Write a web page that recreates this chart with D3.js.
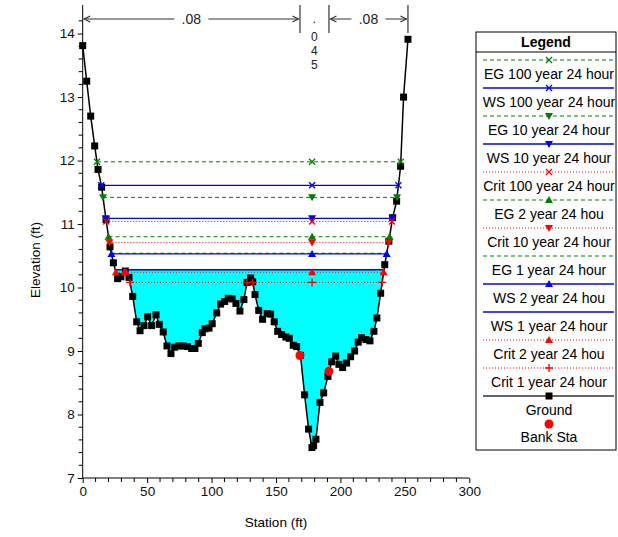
<!DOCTYPE html>
<html>
<head>
<meta charset="utf-8">
<script src="https://cdn.jsdelivr.net/npm/d3@7"></script>
<style>
  body { margin: 0; background: #fff; }
  text { font-family: "Liberation Sans", Arial, sans-serif; }
</style>
</head>
<body>
<div id="chart"></div>
<script>
// ground profile
const stations = [0, 3.1, 6.2, 9.3, 11.9, 14.7, 18.1, 21.2, 23.8, 27.1, 29.7, 33.1, 35.9, 38.8, 41.9, 44.5,
  47.6, 50.4, 53.5, 56.9, 59.4, 62.5, 65.4, 68.5, 71.4, 74.7, 78, 81.2, 84.6, 87.1, 89.7, 92.8, 94.9, 98,
  100.5, 104, 107, 110.2, 113, 116, 118.9, 122, 125.1, 127.5, 130.3, 131.9, 133.7, 136.6, 139.6, 143.2,
  145.8, 148.6, 151.3, 154.4, 157.7, 160.3, 163.4, 166, 169, 172.2, 175.3, 177.9, 179.2, 181, 184.1, 187,
  190.3, 193.2, 196.3, 198.8, 201.7, 204.8, 207.9, 211, 213.8, 216.4, 219.8, 222.9, 226, 228.3, 231.2,
  234.4, 237.6, 240.5, 243.6, 246.7, 249, 252.4];
const elevations = [13.81, 13.25, 12.70, 12.23, 11.86, 11.58, 11.07, 10.64, 10.39, 10.14, 10.17, 10.26, 10.16,
  9.86, 9.46, 9.32, 9.40, 9.54, 9.40, 9.57, 9.42, 9.30, 9.08, 8.96, 9.06, 9.08, 9.08, 9.07, 9.04, 9.04,
  9.12, 9.29, 9.35, 9.36, 9.43, 9.60, 9.74, 9.78, 9.83, 9.82, 9.75, 9.63, 9.81, 10.08, 10.15, 10.09, 9.89,
  9.64, 9.50, 9.59, 9.58, 9.46, 9.31, 9.26, 9.22, 9.20, 9.09, 9.07, 8.93, 8.31, 7.77, 7.48, 7.51, 7.61,
  8.19, 8.34, 8.60, 8.83, 8.92, 8.79, 8.74, 8.81, 8.91, 9.00, 9.14, 9.21, 9.18, 9.16, 9.31, 9.52, 9.91,
  10.36, 10.73, 11.10, 11.36, 11.91, 13.0, 13.91];

const bankStations = [168.6, 191.1];
const bankElevations = [8.93, 8.68];

// water surface profiles
const profiles = ["EG 100 year 24 hour", "WS 100 year 24 hour", "EG 10 year 24 hour", "WS 10 year 24 hour",
  "Crit 100 year 24 hour", "EG 2 year 24 hou", "Crit 10 year 24 hour", "EG 1 year 24 hour",
  "WS 2 year 24 hou", "WS 1 year 24 hour", "Crit 2 year 24 hou", "Crit 1 year 24 hour"];
const levels = [11.98, 11.61, 11.42, 11.09, 11.04, 10.80, 10.71, 10.54, 10.53, 10.28, 10.24, 10.08];
const midStation = 178;

// manning's n
const nBreaks = [0, 168.6, 191.1, 252.4];
const nValues = [".08", ".045", ".08"];

const xTicks = [0, 50, 100, 150, 200, 250, 300];
const yTicks = [7, 8, 9, 10, 11, 12, 13, 14];

const GREEN = "#008000", BLUE = "#0000ff", RED = "#ff0000";
const kind = {
  EG: { color: GREEN, dash: "4,3", width: 1 },
  WS: { color: BLUE, dash: null, width: 1.3 },
  Crit: { color: RED, dash: "1,2", width: 1 }
};
const markerOf = ["x", "x", "down", "down", "x", "up", "down", null, "up", null, "up", "plus"];

const width = 618, height = 537;
const svg = d3.select("#chart").append("svg").attr("width", width).attr("height", height);

const x = d3.scaleLinear().domain([0, 300]).range([82.7, 469.3]);
const y = d3.scaleLinear().domain([7, 14.45]).range([478, 5]);

const ground = stations.map((s, i) => ({ s: s, e: elevations[i] }));

function crossings(level) {
  const out = [];
  for (let i = 0; i < ground.length - 1; i++) {
    const a = ground[i], b = ground[i + 1];
    if ((a.e - level) * (b.e - level) < 0 || a.e === level) {
      out.push(a.s + (level - a.e) / (b.e - a.e) * (b.s - a.s));
    }
  }
  return out;
}

function marker(g, type, color, cx, cy) {
  let d;
  if (type === "x") d = `M${cx - 3},${cy - 3}L${cx + 3},${cy + 3}M${cx + 3},${cy - 3}L${cx - 3},${cy + 3}`;
  if (type === "plus") d = `M${cx - 4},${cy}H${cx + 4}M${cx},${cy - 4}V${cy + 4}`;
  if (type === "up") d = `M${cx},${cy - 4}L${cx + 4},${cy + 3}L${cx - 4},${cy + 3}Z`;
  if (type === "down") d = `M${cx},${cy + 4}L${cx + 4},${cy - 3}L${cx - 4},${cy - 3}Z`;
  const p = g.append("path").attr("d", d);
  if (type === "x" || type === "plus") p.attr("fill", "none").attr("stroke", color).attr("stroke-width", 1.3);
  else p.attr("fill", color);
}

// water fill (WS 1 year)
const wsFill = levels[9];
const cr = crossings(wsFill);
const fillPts = ground.filter(d => d.s > cr[0] && d.s < cr[cr.length - 1])
  .concat(cr.map(s => ({ s: s, e: wsFill })))
  .sort((a, b) => a.s - b.s);
svg.append("path")
  .datum(fillPts)
  .attr("fill", "#00ffff")
  .attr("d", d3.area().x(d => x(d.s)).y0(d => y(d.e)).y1(d => y(Math.max(d.e, wsFill))));

// axes
const xAxis = svg.append("g").attr("transform", `translate(0,${y(7)})`)
  .call(d3.axisBottom(x).tickValues(xTicks).tickSize(5).tickPadding(3));
xAxis.append("g").selectAll("line").data(d3.range(10, 300, 10).filter(v => v % 50))
  .enter().append("line").attr("x1", d => x(d)).attr("x2", d => x(d)).attr("y1", 0).attr("y2", 4)
  .attr("stroke", "#000");
const yAxis = svg.append("g").attr("transform", `translate(${x(0)},0)`)
  .call(d3.axisLeft(y).tickValues(yTicks).tickSize(5).tickPadding(3));
yAxis.append("g").selectAll("line").data(d3.range(7.2, 14.4, 0.2).filter(v => Math.abs(v - Math.round(v)) > 0.05))
  .enter().append("line").attr("y1", d => y(d)).attr("y2", d => y(d)).attr("x1", 0).attr("x2", -4)
  .attr("stroke", "#000");
[xAxis, yAxis].forEach(a => {
  a.select(".domain").attr("d", null);
  a.selectAll("text").attr("font-size", 13.5).attr("font-family", "Liberation Sans, Arial, sans-serif").attr("fill", "#111");
});
svg.append("line").attr("x1", x(0)).attr("x2", x(300)).attr("y1", y(7)).attr("y2", y(7)).attr("stroke", "#000");
svg.append("line").attr("x1", x(0)).attr("x2", x(0)).attr("y1", y(7)).attr("y2", y(14.45)).attr("stroke", "#000");

svg.append("text").attr("x", 276).attr("y", 527).attr("text-anchor", "middle").attr("font-size", 13.5).text("Station (ft)");
svg.append("text").attr("transform", "translate(40,260) rotate(-90)").attr("text-anchor", "middle")
  .attr("font-size", 13.5).text("Elevation (ft)");

// ground
svg.append("path").datum(ground).attr("fill", "none").attr("stroke", "#000").attr("stroke-width", 1.5)
  .attr("d", d3.line().x(d => x(d.s)).y(d => y(d.e)));
svg.append("g").selectAll("rect").data(ground).enter().append("rect")
  .attr("x", d => x(d.s) - 3.5).attr("y", d => y(d.e) - 3.5).attr("width", 7).attr("height", 7).attr("fill", "#000");

// water surface lines
const wl = svg.append("g");
profiles.forEach((name, i) => {
  const st = kind[name.split(" ")[0]];
  const c = crossings(levels[i]);
  const x0 = c[0], x1 = c[c.length - 1];
  wl.append("line").attr("x1", x(x0)).attr("x2", x(x1)).attr("y1", y(levels[i])).attr("y2", y(levels[i]))
    .attr("stroke", st.color).attr("stroke-width", st.width).attr("stroke-dasharray", st.dash);
});
profiles.forEach((name, i) => {
  const st = kind[name.split(" ")[0]];
  if (!markerOf[i]) return;
  const c = crossings(levels[i]).concat([midStation]);
  c.forEach(s => marker(wl, markerOf[i], st.color, x(s), y(levels[i])));
});

// bank stations
svg.append("g").selectAll("circle").data(bankStations).enter().append("circle")
  .attr("cx", d => x(d)).attr("cy", (d, i) => y(bankElevations[i])).attr("r", 4.5).attr("fill", RED);

// manning's n annotation
const ann = svg.append("g").attr("stroke", "#333").attr("stroke-width", 1.2).attr("fill", "none");
const ay = 19;
[1, 2, 3].forEach(i => ann.append("line").attr("x1", x(nBreaks[i])).attr("x2", x(nBreaks[i])).attr("y1", 5).attr("y2", 33));
function arrowSeg(a, b, label) {
  const xa = x(a) + 1.5, xb = x(b) - 1.5, mid = (xa + xb) / 2, half = label.length * 4 + 5;
  ann.append("path").attr("d", `M${xa},${ay}H${mid - half}M${mid + half},${ay}H${xb}`);
  ann.append("path").attr("d", `M${xa + 6},${ay - 3}L${xa},${ay}L${xa + 6},${ay + 3}`);
  ann.append("path").attr("d", `M${xb - 6},${ay - 3}L${xb},${ay}L${xb - 6},${ay + 3}`);
  svg.append("text").attr("x", mid).attr("y", ay + 5).attr("text-anchor", "middle").attr("font-size", 14)
    .attr("fill", "#222").text(label);
}
arrowSeg(nBreaks[0], nBreaks[1], nValues[0]);
arrowSeg(nBreaks[2], nBreaks[3], nValues[2]);
const midX = (x(nBreaks[1]) + x(nBreaks[2])) / 2;
nValues[1].split("").forEach((ch, k) => {
  svg.append("text").attr("x", midX).attr("y", 27 + k * 14 - (k === 0 ? 4 : 0)).attr("text-anchor", "middle")
    .attr("font-size", 12).attr("fill", "#222").text(ch);
});

// legend
const lg = svg.append("g");
const lx0 = 476, lx1 = 616;
lg.append("rect").attr("x", lx0).attr("y", 32).attr("width", lx1 - lx0).attr("height", 418)
  .attr("fill", "#fff").attr("stroke", "#000");
lg.append("line").attr("x1", lx0).attr("x2", lx1).attr("y1", 52).attr("y2", 52).attr("stroke", "#000");
lg.append("text").attr("x", (lx0 + lx1) / 2).attr("y", 47).attr("text-anchor", "middle")
  .attr("font-size", 14).attr("font-weight", "bold").text("Legend");
const lcx = 549;
profiles.forEach((name, i) => {
  const st = kind[name.split(" ")[0]];
  const ly = 60 + i * 28;
  lg.append("line").attr("x1", 483).attr("x2", 614).attr("y1", ly).attr("y2", ly)
    .attr("stroke", st.color).attr("stroke-width", st.width).attr("stroke-dasharray", st.dash);
  if (markerOf[i]) marker(lg, markerOf[i], st.color, lcx, ly);
  lg.append("text").attr("x", lcx).attr("y", ly + 19).attr("text-anchor", "middle").attr("font-size", 14).text(name);
});
lg.append("line").attr("x1", 483).attr("x2", 614).attr("y1", 396).attr("y2", 396).attr("stroke", "#333").attr("stroke-width", 1.5);
lg.append("rect").attr("x", lcx - 3.5).attr("y", 392.5).attr("width", 7).attr("height", 7).attr("fill", "#000");
lg.append("text").attr("x", lcx).attr("y", 415).attr("text-anchor", "middle").attr("font-size", 14).text("Ground");
lg.append("circle").attr("cx", lcx).attr("cy", 424).attr("r", 4.5).attr("fill", RED);
lg.append("text").attr("x", lcx).attr("y", 442).attr("text-anchor", "middle").attr("font-size", 14).text("Bank Sta");
</script>
</body>
</html>
